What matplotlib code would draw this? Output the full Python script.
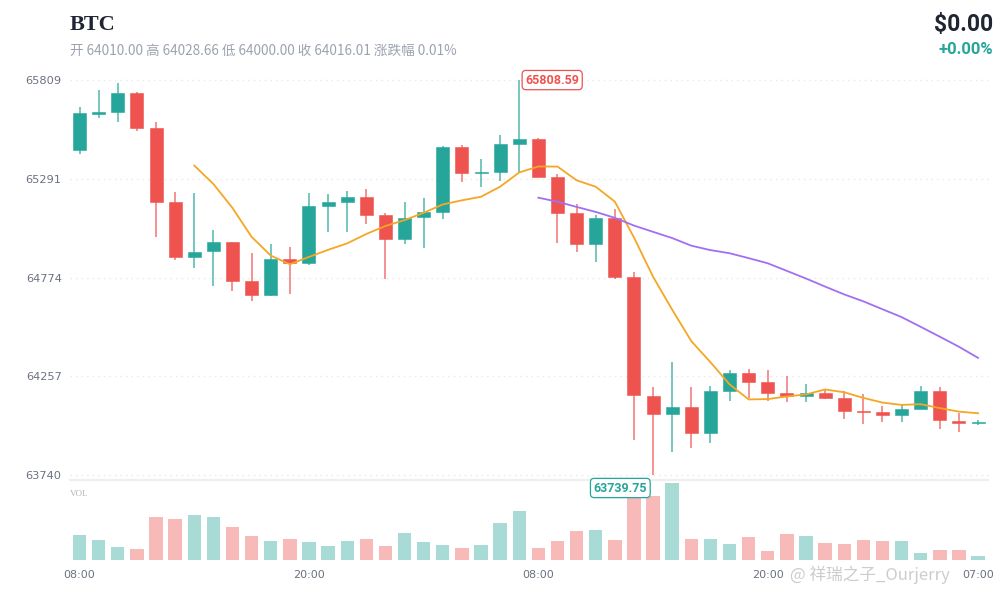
import numpy as np
import pandas as pd
import matplotlib
matplotlib.use("Agg")
import matplotlib.pyplot as plt

# ---------------- data ----------------
opens = [65443.5, 65632.1, 65641.0, 65740.5, 65555.6, 65168.0, 64881.5, 64911.4, 64958.5, 64757.4,
         64682.5, 64869.5, 64848.5, 65148.7, 65171.2, 65195.8, 65100.0, 64975.8, 65089.5, 65118.8,
         65456.1, 65319.9, 65326.7, 65473.4, 65498.0, 65302.1, 65113.6, 64951.2, 65085.8, 64779.4,
         64156.0, 64057.7, 64094.3, 63959.7, 64181.3, 64272.4, 64225.3, 64169.2, 64155.1, 64169.2,
         64141.5, 64075.0, 64068.1, 64054.0, 64087.0, 64181.3, 64022.6, 64010.00]
highs = [65667.2, 65757.8, 65792.9, 65745.0, 65590.2, 65220.4, 65218.3, 65023.0, 64960.0, 64902.5,
         64949.6, 64935.5, 65218.3, 65211.5, 65228.8, 65237.7, 65113.6, 65168.0, 65190.6, 65462.9,
         65469.7, 65393.3, 65520.5, 65808.59, 65506.4, 65314.7, 65157.6, 65100.0, 65134.5, 64801.4,
         64199.1, 64333.2, 64202.2, 64205.9, 64289.7, 64294.9, 64289.7, 64258.3, 64216.4, 64188.6,
         64181.3, 64162.4, 64102.7, 64106.4, 64207.5, 64200.7, 64066.1, 64028.66]
lows = [65421.0, 65611.1, 65590.2, 65543.1, 64987.9, 64865.8, 64825.5, 64729.6, 64705.0, 64652.7,
        64680.0, 64687.8, 64839.6, 65014.1, 65014.1, 65052.8, 64764.8, 64948.1, 64927.1, 65080.6,
        65274.4, 65249.7, 65281.2, 65328.3, 65300.0, 64953.3, 64909.3, 64856.9, 64767.9, 63923.1,
        63739.75, 63858.6, 63882.7, 63905.8, 64128.9, 64141.5, 64128.9, 64122.1, 64122.1, 64136.2,
        64033.1, 64006.9, 64018.9, 64018.9, 64085.0, 63980.7, 63966.5, 64000.00]
closes = [65634.2, 65639.4, 65740.5, 65555.6, 65168.0, 64880.0, 64909.3, 64958.5, 64757.4, 64682.5,
          64869.5, 64848.5, 65148.7, 65169.6, 65195.8, 65101.5, 64975.8, 65084.2, 65117.2, 65456.1,
          65319.9, 65326.7, 65471.8, 65498.0, 65302.1, 65113.6, 64951.2, 65085.8, 64779.4, 64158.8,
          64057.7, 64094.3, 63959.7, 64179.7, 64272.4, 64226.8, 64170.8, 64155.1, 64169.2, 64141.5,
          64075.0, 64068.1, 64054.0, 64085.4, 64181.3, 64026.2, 64012.1, 64016.01]
volumes = [24.7, 20.3, 12.7, 10.7, 43, 41, 45, 43.3, 33, 24.3,
           19, 21, 17.7, 14, 19, 20.7, 14, 27, 17.7, 15.3,
           12.3, 15, 36.7, 48.7, 12.3, 19.3, 28.7, 30, 20.3, 66,
           64, 77.3, 21.3, 21, 16, 23.3, 8.7, 26.3, 23.7, 17,
           15.7, 20, 19.3, 19, 7.3, 10, 10, 3.7]
tick_positions = [0, 12, 24, 36, 47]
tick_labels = ["08:00", "20:00", "08:00", "20:00", "07:00"]
price_ticks = [63740, 64257, 64774, 65291, 65809]
ma_periods = [7, 25]

# ---------------- style ----------------
UP = "#26a69a"
DOWN = "#ef5350"
MA_COLORS = {7: "#f5a623", 25: "#a06ff2"}
GRID = "#e8e8ec"
TXT = "#6b7280"
BOLD_FAMILY = ["Roboto", "DejaVu Sans"]

df = pd.DataFrame({"o": opens, "h": highs, "l": lows, "c": closes, "v": volumes})
x = np.arange(len(df))
up = df["c"] >= df["o"]
colors = np.where(up, UP, DOWN)

fig = plt.figure(figsize=(10, 6), dpi=100)
fig.patch.set_facecolor("white")

L, R = 70 / 1000, 988 / 1000
axv = fig.add_axes([L, 1 - 560 / 600, R - L, 80 / 600])
ax = fig.add_axes([L, 1 - 475 / 600, R - L, 395 / 600])
axv.set_zorder(1)
ax.set_zorder(3)

xlim = (-0.50, 47.52)
pmin, pmax = min(lows), max(highs)

# price panel
ax.set_xlim(*xlim)
ax.set_ylim(pmin, pmax)
for t in price_ticks:
    ax.axhline(t, color=GRID, lw=1.0, ls=(0, (1, 3)), zorder=0, clip_on=False)

ax.vlines(x, df["l"], df["h"], colors=colors, lw=1.1, alpha=0.8, zorder=2, clip_on=False)
body_bottom = np.minimum(df["o"], df["c"])
body_h = np.maximum(np.abs(df["c"] - df["o"]), 6.0)
ax.bar(x, body_h, bottom=body_bottom, width=0.68, color=colors, edgecolor=colors,
       linewidth=0.4, zorder=3, clip_on=False)

for p in ma_periods:
    ma = df["c"].rolling(p).mean()
    ax.plot(x, ma, color=MA_COLORS[p], lw=1.3, zorder=4, clip_on=False)

ax.set_yticks(price_ticks)
ax.set_yticklabels([str(t) for t in price_ticks])
ax.tick_params(axis="y", length=0, pad=6, labelsize=8.2, labelcolor=TXT)
ax.tick_params(axis="x", length=0, labelbottom=False)
for s in ax.spines.values():
    s.set_visible(False)
ax.patch.set_alpha(0)

# high / low labels
ih = int(np.argmax(highs))
il = int(np.argmin(lows))
ax.annotate(f"{highs[ih]:.2f}", xy=(ih, highs[ih]), xytext=(6, 0), textcoords="offset pixels",
            ha="left", va="center", fontsize=9, fontweight="bold", color=DOWN,
            family=BOLD_FAMILY, zorder=6, annotation_clip=False,
            bbox=dict(boxstyle="round,pad=0.25,rounding_size=0.3", fc="white", ec=DOWN, lw=0.9))
ax.annotate(f"{lows[il]:.2f}", xy=(il, lows[il]), xytext=(-6, -13), textcoords="offset pixels",
            ha="right", va="center", fontsize=9, fontweight="bold", color=UP,
            family=BOLD_FAMILY, zorder=6, annotation_clip=False,
            bbox=dict(boxstyle="round,pad=0.25,rounding_size=0.3", fc="white", ec=UP, lw=0.9))

# volume panel
axv.set_xlim(*xlim)
axv.set_ylim(0, 80)
axv.bar(x, df["v"], width=0.70, color=colors, alpha=0.4, linewidth=0, zorder=2)
for k in ["left", "right", "bottom"]:
    axv.spines[k].set_visible(False)
axv.spines["top"].set_color("#efefef")
axv.spines["top"].set_linewidth(1.6)
axv.set_yticks([])
axv.set_xticks(tick_positions)
axv.set_xticklabels(tick_labels)
axv.tick_params(axis="x", length=0, pad=7, labelsize=8, labelcolor=TXT)
axv.text(0.0, 0.83, "VOL", transform=axv.transAxes, fontsize=6.5, color="#b5b5b5",
         family="Liberation Serif", ha="left", va="center")

# header
fig.text(70 / 1000, 1 - 25 / 600, "BTC", fontsize=16, fontweight="bold", color="#1f2533",
         family="Liberation Serif", ha="left", va="center")
fig.text(70 / 1000, 1 - 51 / 600,
         f"开 {opens[-1]:.2f} 高 {highs[-1]:.2f} 低 {lows[-1]:.2f} 收 {closes[-1]:.2f} 涨跌幅 0.01%",
         fontsize=9.8, color="#9ca3af", family=["Noto Sans CJK SC", "DejaVu Sans"],
         ha="left", va="center")
fig.text(993 / 1000, 1 - 24 / 600, "$0.00", fontsize=16.5, fontweight="bold", color="#1f2533",
         family=BOLD_FAMILY, ha="right", va="center")
fig.text(993 / 1000, 1 - 50 / 600, "+0.00%", fontsize=12, fontweight="bold", color=UP,
         family=BOLD_FAMILY, ha="right", va="center")

# watermark
fig.text(790 / 1000, 1 - 575 / 600, "@ 祥瑞之子_Ourjerry", fontsize=12, color="#c4c4c4",
         alpha=0.85, family=["Noto Sans CJK SC", "DejaVu Sans"], ha="left", va="center", zorder=10)

fig.savefig("out.png", dpi=100, facecolor="white")
